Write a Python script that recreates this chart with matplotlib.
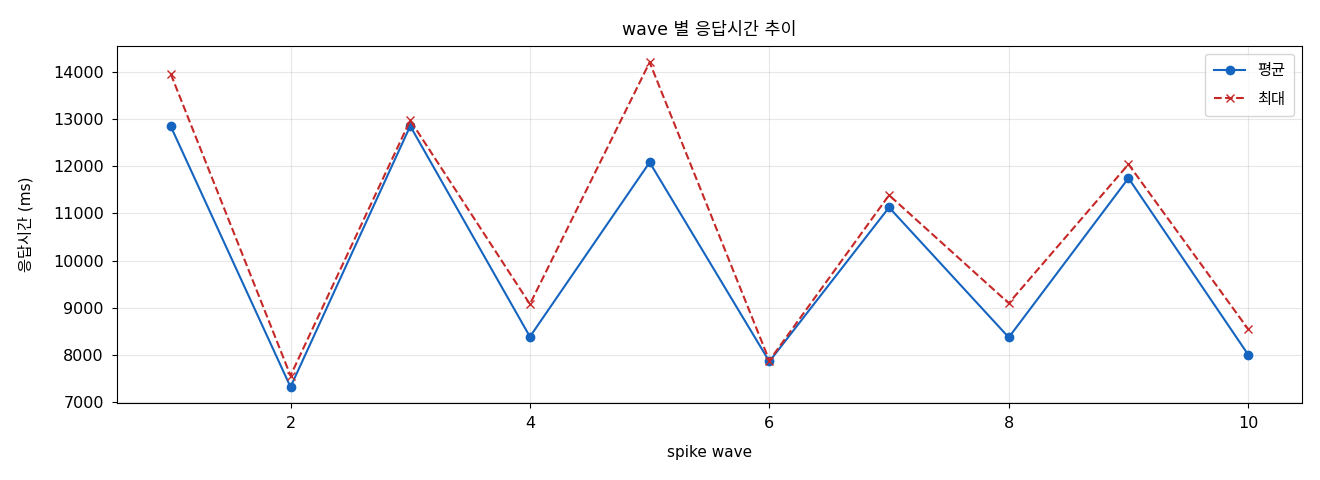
#!/usr/bin/env python3
"""wave 별 응답시간 추이 (평균 / 최대)"""

import matplotlib
matplotlib.use('Agg')
import matplotlib.pyplot as plt

plt.rcParams['font.family'] = ['DejaVu Sans', 'Noto Sans CJK KR']
plt.rcParams['axes.unicode_minus'] = False

# spike wave 번호와 응답시간 (ms)
waves = [1, 2, 3, 4, 5, 6, 7, 8, 9, 10]
avg_ms = [12840, 7320, 12850, 8385, 12080, 7860, 11125, 8370, 11745, 8005]
max_ms = [13950, 7560, 12970, 9075, 14200, 7880, 11385, 9095, 12040, 8545]

fig, ax = plt.subplots(figsize=(13.2, 4.8), dpi=100)
fig.subplots_adjust(left=0.0886, right=0.9864, top=0.904, bottom=0.160)

ax.plot(waves, avg_ms, 'o-', color='#1565C0', linewidth=1.5, markersize=6, label='평균')
ax.plot(waves, max_ms, 'x--', color='#C62828', linewidth=1.5, markersize=6, label='최대')

ax.set_title('wave 별 응답시간 추이', fontsize=12.5, pad=8)
ax.set_xlabel('spike wave', fontsize=11, labelpad=10)
ax.set_ylabel('응답시간 (ms)', fontsize=11, labelpad=14)
ax.tick_params(labelsize=11.5, pad=6)
ax.grid(True, alpha=0.3)
ax.legend(loc='upper right', fontsize=11, labelspacing=0.9, borderpad=0.6)

plt.savefig('out.png', dpi=100)
